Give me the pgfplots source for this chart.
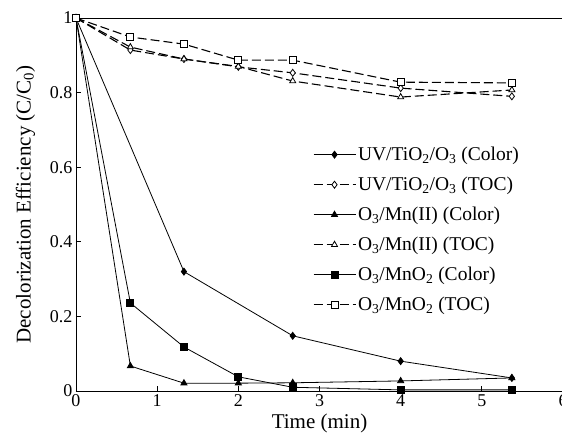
\documentclass[border=0pt]{standalone}
\usepackage{fontspec}
\setmainfont{Liberation Serif}
\usepackage{pgfplots}
\pgfplotsset{compat=1.18}
\begin{document}
\begin{tikzpicture}
\begin{axis}[
  scale only axis, width=487pt, height=373pt, at={(0,0)}, anchor=south west,
  xmin=0, xmax=6, ymin=0, ymax=1,
  xtick={0,1,2,3,4,5,6}, ytick={0,0.2,0.4,0.6,0.8,1},
  tick align=inside, xtick pos=bottom, ytick pos=left,
  major tick length=5pt,
  tick style={black, line width=0.8pt},
  tick label style={font=\fontsize{18}{18}\selectfont},
  /pgf/number format/assume math mode=true,
  xlabel={Time (min)},
  ylabel={Decolorization Efficiency (C/C\textsubscript{0})},
  label style={font=\fontsize{21}{21}\selectfont},
  ylabel style={yshift=8pt},
  legend style={draw=none, fill=none, at={(0.48,0.665)}, anchor=north west,
    font=\fontsize{19.5}{19.5}\selectfont, row sep=11pt},
  legend cell align=left,
  legend image code/.code={\draw[mark repeat=2,mark phase=2] plot coordinates {(0pt,0pt) (21pt,0pt) (42pt,0pt)};},
  axis line style={line width=0.8pt},
  every axis plot/.append style={black, line width=0.8pt, mark size=3.5pt},
  toc/.style={line width=1.1pt, dash pattern=on 9pt off 4pt, mark options={solid, fill=white, line width=0.8pt}},
  col/.style={solid, mark options={solid, fill=black}},
]
\addplot[col, mark=diamond*] coordinates {(0,1) (1.33,0.32) (2.67,0.148) (4,0.08) (5.37,0.035)};
\addplot[toc, mark=diamond*] coordinates {(0,1) (0.67,0.914) (1.33,0.89) (2,0.869) (2.67,0.853) (4,0.812) (5.37,0.79)};
\addplot[col, mark=triangle*] coordinates {(0,1) (0.67,0.067) (1.33,0.021) (2,0.021) (2.67,0.022) (4,0.027) (5.37,0.035)};
\addplot[toc, mark=triangle*] coordinates {(0,1) (0.67,0.922) (1.33,0.89) (2,0.87) (2.67,0.831) (4,0.788) (5.37,0.807)};
\addplot[col, mark=square*] coordinates {(0,1) (0.67,0.236) (1.33,0.118) (2,0.038) (2.67,0.01) (4,0.003) (5.37,0.003)};
\addplot[toc, mark=square*] coordinates {(0,1) (0.67,0.949) (1.33,0.93) (2,0.887) (2.67,0.887) (4,0.828) (5.37,0.826)};
\legend{UV/TiO\textsubscript{2}/O\textsubscript{3} (Color), UV/TiO\textsubscript{2}/O\textsubscript{3} (TOC), O\textsubscript{3}/Mn(II) (Color), O\textsubscript{3}/Mn(II) (TOC), O\textsubscript{3}/MnO\textsubscript{2} (Color), O\textsubscript{3}/MnO\textsubscript{2} (TOC)}
\end{axis}
\pgfresetboundingbox
\path[use as bounding box] (-76pt,-48pt) rectangle (486pt,391pt);
\end{tikzpicture}
\end{document}
